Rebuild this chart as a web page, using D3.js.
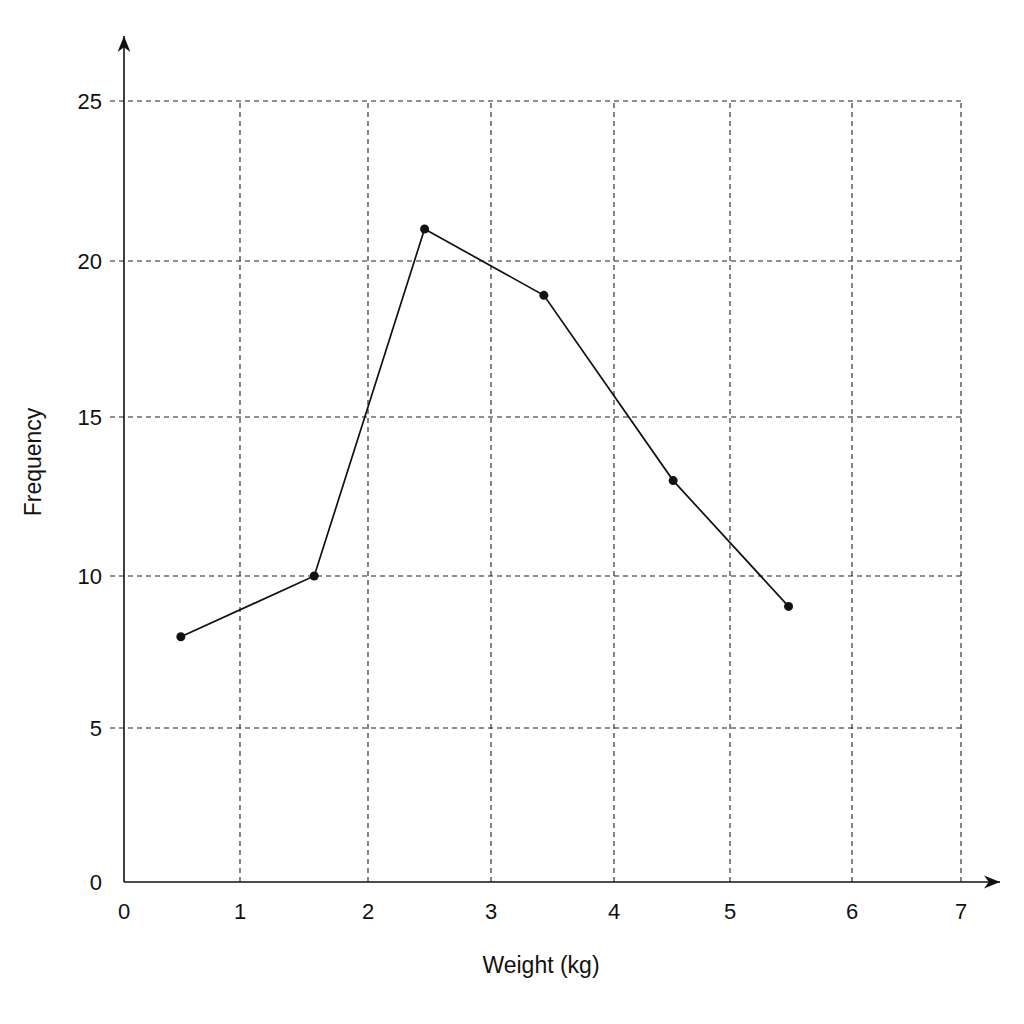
<!DOCTYPE html>
<html>
<head>
<meta charset="utf-8">
<script src="https://cdn.jsdelivr.net/npm/d3@7"></script>
<style>
  body { margin: 0; background: #fff; }
  text { font-family: "Liberation Sans", Arial, sans-serif; fill: #111; }
</style>
</head>
<body>
<div id="chart"></div>
<script>
const weights = [0.49, 1.58, 2.46, 3.43, 4.51, 5.48];
const frequencies = [8, 10, 21, 18.9, 13, 9];
const xTicks = [0, 1, 2, 3, 4, 5, 6, 7];
const yTicks = [0, 5, 10, 15, 20, 25];

const width = 1024, height = 1024;
const svg = d3.select("#chart").append("svg")
  .attr("width", width).attr("height", height);

// the grid in the picture is slightly uneven, so use piecewise scales
const x = d3.scaleLinear().domain(xTicks)
  .range([124, 240, 368, 491, 614, 730, 852, 961]);
const y = d3.scaleLinear().domain(yTicks)
  .range([882, 728, 576, 417, 261, 101]);

const defs = svg.append("defs");
defs.append("marker").attr("id", "arrow")
  .attr("viewBox", "0 0 10 10").attr("refX", 10).attr("refY", 5)
  .attr("markerWidth", 10).attr("markerHeight", 10)
  .attr("orient", "auto-start-reverse")
  .append("path").attr("d", "M0,1 L10,5 L0,9 L3,5 Z").attr("fill", "#111");

const grid = svg.append("g")
  .attr("stroke", "#222").attr("stroke-width", 1.1).attr("stroke-dasharray", "5,4");
grid.selectAll("line.v").data(xTicks.slice(1)).join("line")
  .attr("x1", d => x(d)).attr("x2", d => x(d))
  .attr("y1", y(0)).attr("y2", y(25));
grid.selectAll("line.h").data(yTicks.slice(1)).join("line")
  .attr("x1", x(0) - 14).attr("x2", x(7))
  .attr("y1", d => y(d)).attr("y2", d => y(d));

// axes
svg.append("line").attr("x1", x(0)).attr("x2", 1000)
  .attr("y1", y(0)).attr("y2", y(0))
  .attr("stroke", "#111").attr("stroke-width", 1.6).attr("marker-end", "url(#arrow)");
svg.append("line").attr("x1", x(0)).attr("x2", x(0))
  .attr("y1", y(0)).attr("y2", 36)
  .attr("stroke", "#111").attr("stroke-width", 1.6).attr("marker-end", "url(#arrow)");

svg.selectAll("text.xt").data(xTicks).join("text")
  .attr("x", d => x(d)).attr("y", 919)
  .attr("text-anchor", "middle").attr("font-size", 22).text(d => d);
svg.selectAll("text.yt").data(yTicks).join("text")
  .attr("x", 102).attr("y", d => y(d) + 8)
  .attr("text-anchor", "end").attr("font-size", 22).text(d => d);

svg.append("text").attr("x", 541).attr("y", 973)
  .attr("text-anchor", "middle").attr("font-size", 23).text("Weight (kg)");
svg.append("text").attr("transform", "translate(41,462) rotate(-90)")
  .attr("text-anchor", "middle").attr("font-size", 23).text("Frequency");

const pts = weights.map((w, i) => [w, frequencies[i]]);
svg.append("path").datum(pts)
  .attr("fill", "none").attr("stroke", "#111").attr("stroke-width", 1.7)
  .attr("d", d3.line().x(d => x(d[0])).y(d => y(d[1])));
svg.selectAll("circle").data(pts).join("circle")
  .attr("cx", d => x(d[0])).attr("cy", d => y(d[1])).attr("r", 4.5)
  .attr("fill", "#111");
</script>
</body>
</html>
